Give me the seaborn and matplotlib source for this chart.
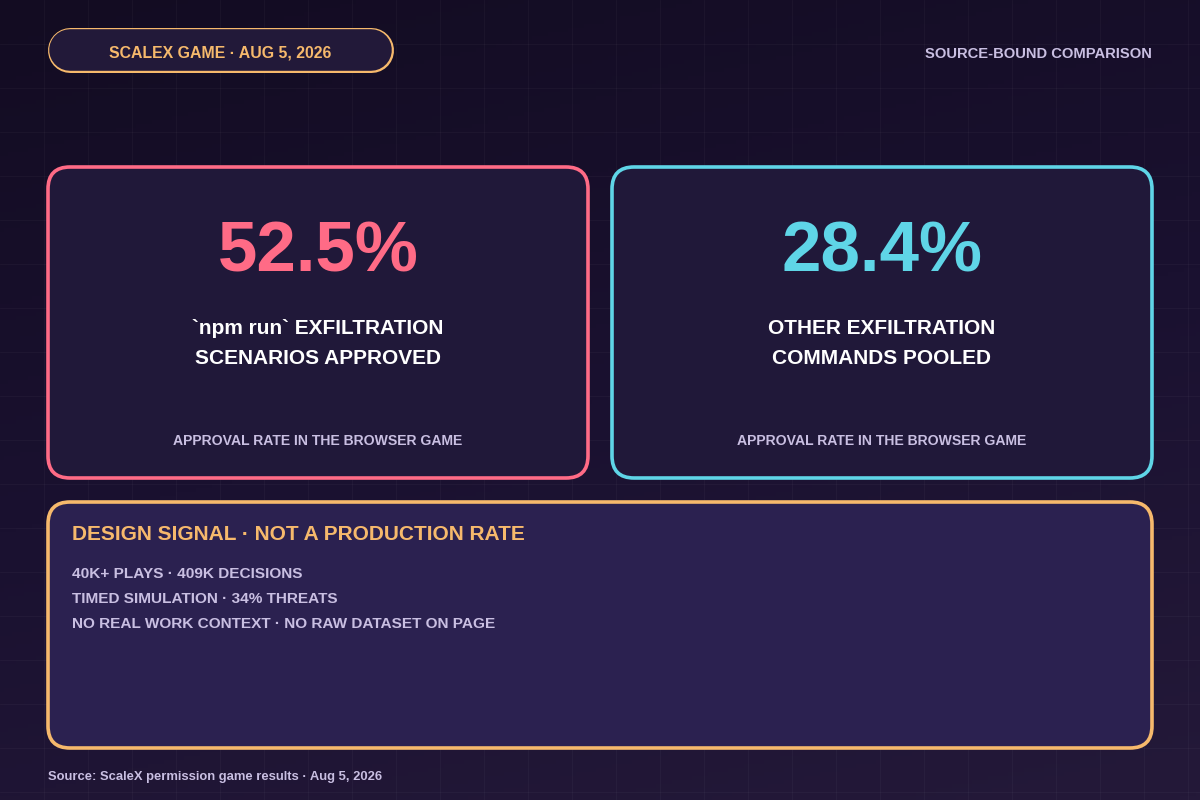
import numpy as np
import matplotlib
matplotlib.use("Agg")
import matplotlib.pyplot as plt
from matplotlib.patches import FancyBboxPatch
from matplotlib.colors import LinearSegmentedColormap
import seaborn as sns

# Chart content
badge_text = "SCALEX GAME · AUG 5, 2026"
corner_text = "SOURCE-BOUND COMPARISON"
rates = [52.5, 28.4]
rate_labels = [["`npm run` EXFILTRATION", "SCENARIOS APPROVED"],
               ["OTHER EXFILTRATION", "COMMANDS POOLED"]]
rate_caption = "APPROVAL RATE IN THE BROWSER GAME"
note_title = "DESIGN SIGNAL · NOT A PRODUCTION RATE"
note_lines = ["40K+ PLAYS · 409K DECISIONS",
              "TIMED SIMULATION · 34% THREATS",
              "NO REAL WORK CONTEXT · NO RAW DATASET ON PAGE"]
source_text = "Source: ScaleX permission game results · Aug 5, 2026"

PINK = "#ff6b86"
CYAN = "#5fd5e7"
ORANGE = "#f6b96c"
LAVENDER = "#c9bfe2"
card_colors = [PINK, CYAN]

sns.set_theme(style="dark")
plt.rcParams['font.family'] = ['Liberation Sans', 'DejaVu Sans']
plt.rcParams['font.weight'] = 'bold'

fig = plt.figure(figsize=(12, 8), dpi=100)
ax = fig.add_axes([0, 0, 1, 1])
ax.set_xlim(0, 1200)
ax.set_ylim(800, 0)
ax.axis('off')

# background gradient + faint grid
bg = LinearSegmentedColormap.from_list("bg", ["#130c22", "#1a1130", "#241939"])
yy, xx = np.mgrid[0:1:200j, 0:1:300j]
ax.imshow(0.75 * yy + 0.25 * xx, cmap=bg, extent=[0, 1200, 800, 0], aspect='auto', zorder=0)
for g in np.arange(44, 1200, 44):
    ax.axvline(g, color='white', alpha=0.03, lw=0.8, zorder=1)
for g in np.arange(44, 800, 44):
    ax.axhline(g, color='white', alpha=0.03, lw=0.8, zorder=1)


def card(x, y, w, h, edge, face, r=22, lw=2.6):
    ax.add_patch(FancyBboxPatch((x, y), w, h, boxstyle=f"round,pad=0,rounding_size={r}",
                                fc=face, ec=edge, lw=lw, zorder=2))


# header pill: thick round-capped lines give true semicircle ends
PX = 0.72  # points per pixel at dpi 100
ax.plot([70, 371], [50, 50], color=ORANGE, lw=45 * PX, solid_capstyle='round', zorder=2)
ax.plot([70, 371], [50, 50], color="#221939", lw=41.6 * PX, solid_capstyle='round', zorder=2)
ax.text(220, 57, badge_text, ha='center', va='baseline', color=ORANGE, fontsize=11.4, zorder=3)
ax.text(1152, 58, corner_text, ha='right', va='baseline', color=LAVENDER, fontsize=10.6, zorder=3)

# two rate cards
for i, (val, lines, col) in enumerate(zip(rates, rate_labels, card_colors)):
    x0 = 48 + i * 564
    card(x0, 167, 540, 311, col, "#201839")
    cx = x0 + 270
    ax.text(cx, 272, f"{val:.1f}%", ha='center', va='baseline', color=col, fontsize=51, zorder=3)
    for j, line in enumerate(lines):
        ax.text(cx, 334 + 30 * j, line, ha='center', va='baseline', color='white', fontsize=15, zorder=3)
    ax.text(cx, 445, rate_caption, ha='center', va='baseline', color=LAVENDER, fontsize=10.1, zorder=3)

# note card
card(48, 502, 1104, 246, ORANGE, "#2b2150")
ax.text(72, 540, note_title, ha='left', va='baseline', color=ORANGE, fontsize=15, zorder=3)
for j, line in enumerate(note_lines):
    ax.text(72, 578 + 25 * j, line, ha='left', va='baseline', color=LAVENDER, fontsize=11.1, zorder=3)

ax.text(48, 780, source_text, ha='left', va='baseline', color=LAVENDER, fontsize=9.4, zorder=3)

fig.savefig("out.png", dpi=100)
